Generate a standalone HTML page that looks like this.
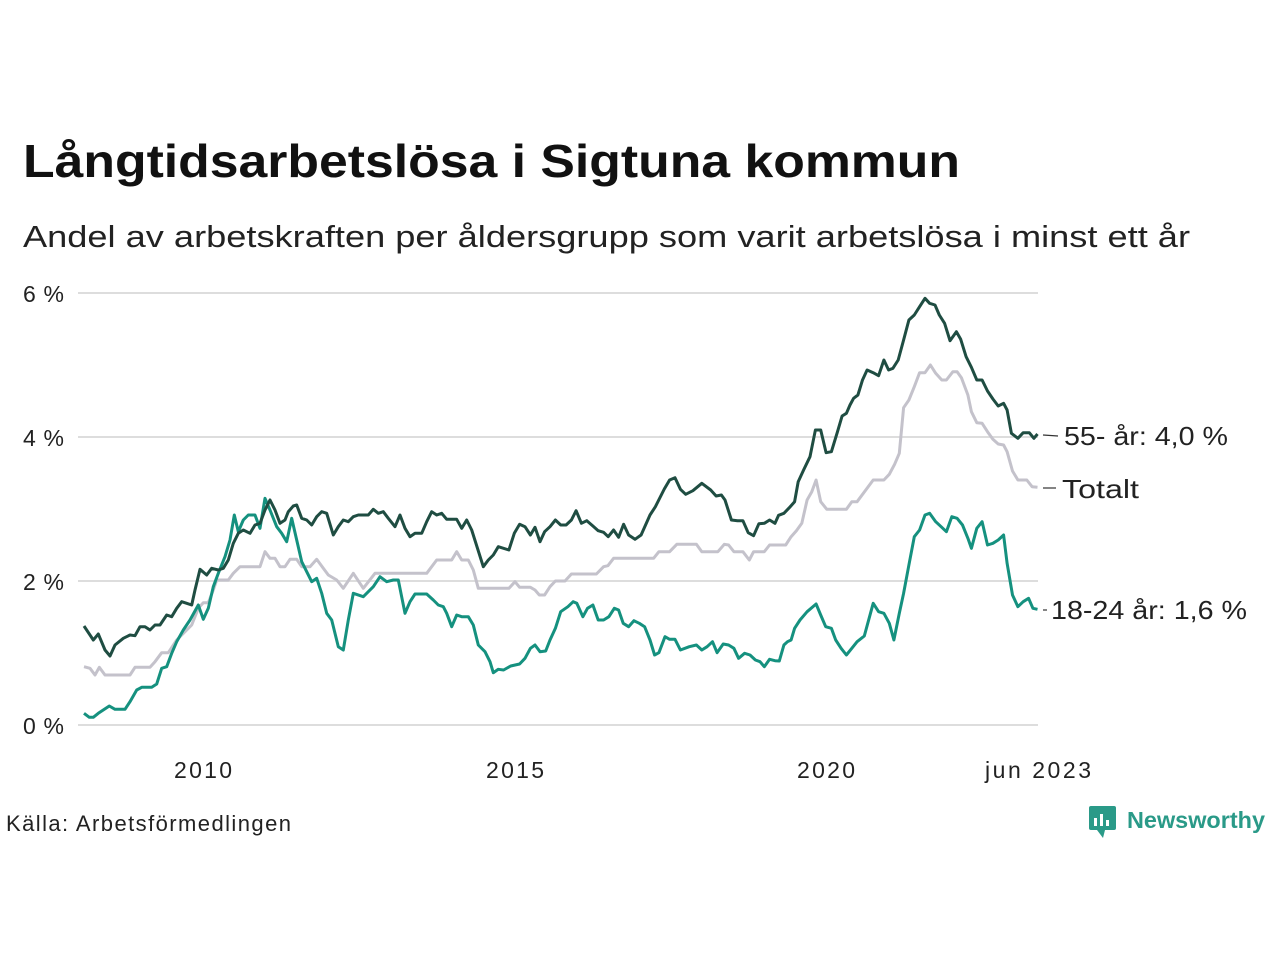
<!DOCTYPE html>
<html><head><meta charset="utf-8"><style>body{margin:0;background:#fff}svg{display:block}</style></head>
<body>
<svg id="s" width="1280" height="960" xmlns="http://www.w3.org/2000/svg" font-family="'Liberation Sans', 'DejaVu Sans', sans-serif">
<rect width="1280" height="960" fill="#fff"/>
<text x="23" y="177" font-size="46" font-weight="bold" fill="#111" textLength="937" lengthAdjust="spacingAndGlyphs">Långtidsarbetslösa i Sigtuna kommun</text>
<text x="23" y="247" font-size="31" fill="#222" textLength="1167" lengthAdjust="spacingAndGlyphs">Andel av arbetskraften per åldersgrupp som varit arbetslösa i minst ett år</text>
<g stroke="#ddd" stroke-width="2">
<line x1="78" x2="1038" y1="293" y2="293"/><line x1="78" x2="1038" y1="437" y2="437"/>
<line x1="78" x2="1038" y1="581" y2="581"/><line x1="78" x2="1038" y1="725" y2="725"/>
</g>
<g font-size="23" fill="#222" lengthAdjust="spacingAndGlyphs">
<text x="23" y="302" textLength="41">6 %</text><text x="23" y="446" textLength="41">4 %</text><text x="23" y="590" textLength="41">2 %</text><text x="23" y="734" textLength="41">0 %</text>
<text x="203" y="778" text-anchor="middle" textLength="58">2010</text><text x="515" y="778" text-anchor="middle" textLength="58">2015</text>
<text x="826" y="778" text-anchor="middle" textLength="58">2020</text><text x="1038" y="778" text-anchor="middle" textLength="106">jun 2023</text>
<text x="6" y="831" font-size="22" textLength="285">Källa: Arbetsförmedlingen</text>
</g>
<g id="lines" fill="none" stroke-width="3" stroke-linejoin="round"></g>
<g stroke="#333" stroke-width="1.2">
<line x1="1043" y1="435" x2="1058" y2="436"/><line x1="1043" y1="488" x2="1056" y2="488"/><line x1="1043" y1="610" x2="1047" y2="610"/>
</g>
<g font-size="26" fill="#222">
<text x="1064" y="445" textLength="164" lengthAdjust="spacingAndGlyphs">55- år: 4,0 %</text>
<text x="1062" y="498" textLength="77" lengthAdjust="spacingAndGlyphs">Totalt</text>
<text x="1051" y="619" textLength="196" lengthAdjust="spacingAndGlyphs">18-24 år: 1,6 %</text>
</g>
<g>
<rect x="1089" y="806" width="27" height="24" rx="2" fill="#2a9a88"/>
<polygon points="1097,830 1103,838 1105,830" fill="#2a9a88"/>
<rect x="1094" y="818" width="3" height="8" fill="#fff"/><rect x="1100" y="814" width="3" height="12" fill="#fff"/><rect x="1106" y="820" width="3" height="6" fill="#fff"/>
<text x="1127" y="828" font-size="23" font-weight="bold" fill="#2a9a88" textLength="138" lengthAdjust="spacingAndGlyphs">Newsworthy</text>
</g>
</svg>
<script>
var z1={dark:[42,438,70,480,85,462,105,510,120,528,135,495,160,475,180,465,195,467,210,440,225,440,240,450,255,435,270,435,290,405,305,410,320,385,335,365,350,370,365,375,375,330,390,268,410,285,425,265,445,270,460,265,475,240,490,190,505,160,520,150,540,160,555,135,570,130,585,90,600,60,615,90,630,130,645,120,655,95,670,78,680,75,695,115,710,120,725,135,740,110,755,95,770,100,790,165,805,140,820,120,835,125,850,110,865,105,895,105,910,88,925,100,940,95,955,115,975,140,990,105,1005,145,1020,170,1035,160,1055,160,1070,125,1085,95,1100,105,1115,100,1130,118,1160,118,1175,145,1190,120,1205,150,1240,260,1255,240,1270,225,1285,200],
gray:[42,560,60,565,75,585,88,562,105,585,180,585,195,562,240,562,255,545,275,518,295,518,320,480,345,455,365,435,385,385,400,368,415,368,430,330,440,300,475,300,490,280,510,260,570,260,585,215,600,235,615,235,630,260,645,260,660,238,680,238,695,260,720,260,740,238,760,265,775,285,800,300,820,325,850,280,880,325,915,280,1070,280,1100,240,1145,240,1160,215,1175,240,1195,240,1210,270,1225,325,1285,325],
teal:[42,700,58,712,70,712,85,700,118,678,135,688,165,688,180,665,200,630,215,622,245,622,260,612,275,565,290,560,305,520,320,485,340,450,360,420,385,375,400,418,415,385,430,320,445,280,465,230,480,180,493,105,505,155,520,120,535,105,555,105,570,145,585,55,600,90,620,140,635,160,650,185,665,115,680,180,695,245,710,275,725,305,740,295,755,340,770,400,785,420,805,500,820,510,835,420,850,340,880,350,910,320,930,290,950,305,970,300,985,300,1005,400,1020,365,1035,342,1070,342,1090,360,1105,375,1120,380,1130,400,1145,440,1160,405,1175,410,1195,410,1210,435,1225,495,1245,515,1260,545,1270,578,1285,568]};
var z2={dark:[0,800,25,810,40,760,55,733,70,740,85,765,98,742,112,785,125,755,140,740,155,720,170,735,185,735,200,720,213,692,228,730,243,722,260,738,275,752,290,757,303,770,318,750,332,772,346,733,360,765,378,778,395,765,420,705,435,680,460,627,475,600,490,593,505,628,520,643,540,632,565,610,590,630,605,648,620,645,630,660,648,720,665,722,680,722,695,758,710,767,725,731,740,730,755,720,770,730,780,706,795,700,810,683,825,665,835,605,850,570,868,530,883,450,898,450,913,518,928,515,945,455,958,408,970,400,980,375,990,355,1002,345,1015,300,1028,270,1045,278,1060,287,1075,240,1088,270,1100,265,1115,240,1130,180,1145,120,1160,105,1175,80,1190,55,1203,70,1218,75,1230,105,1245,130,1260,182,1278,155,1290,178,1305,230,1320,262,1335,300,1350,300,1365,333,1380,357,1395,378,1410,370,1420,390,1432,460,1450,475,1465,458,1482,458,1495,475,1505,462],
gray:[0,925,25,925,42,905,55,922,85,922,98,930,110,945,125,945,140,920,155,903,182,903,200,882,270,882,290,860,302,857,318,835,430,835,445,815,475,815,495,793,550,793,565,815,610,815,628,793,640,795,655,815,680,815,698,840,710,815,740,815,755,795,800,795,815,770,830,752,845,730,860,660,873,635,885,600,898,665,915,688,970,688,985,665,1000,665,1045,600,1075,600,1090,583,1105,553,1118,520,1130,383,1145,360,1160,320,1175,278,1190,278,1205,255,1220,280,1237,300,1250,300,1268,275,1280,275,1292,293,1310,345,1320,395,1335,428,1350,430,1365,455,1380,478,1395,492,1410,495,1420,515,1435,573,1450,600,1475,600,1490,620,1505,622],
teal:[0,1165,10,1170,30,1158,55,1152,70,1135,85,1105,98,1095,112,1115,128,1113,140,1080,155,1045,170,995,190,980,205,965,215,970,232,1010,245,985,260,975,275,1020,290,1020,305,1010,320,985,332,990,345,1030,360,1040,375,1022,390,1030,405,1040,420,1080,433,1125,445,1118,462,1070,475,1078,490,1078,505,1110,530,1100,550,1095,565,1110,580,1100,595,1085,608,1118,625,1092,640,1095,655,1105,668,1135,685,1120,700,1125,715,1140,728,1145,740,1160,755,1138,770,1142,782,1143,795,1095,805,1085,815,1080,825,1045,840,1020,860,995,885,972,898,1005,912,1040,928,1045,940,1080,955,1105,970,1125,985,1105,1000,1085,1020,1068,1045,970,1060,995,1075,1000,1090,1030,1103,1080,1118,1000,1130,940,1145,855,1160,770,1175,750,1190,705,1203,700,1220,725,1235,740,1250,755,1265,710,1280,715,1295,735,1310,775,1320,805,1335,745,1350,725,1365,795,1380,790,1395,780,1410,765,1420,850,1435,945,1450,980,1465,965,1480,955,1492,985,1505,988]};
var col={gray:"#c4c2cb",teal:"#15917f",dark:"#1f4d42"};
var g=document.getElementById("lines");
["gray","teal","dark"].forEach(function(k){
 var p=[],a=z1[k],b=z2[k],i;
 for(i=0;i<a.length;i+=2)p.push((70+a[i]/3).toFixed(1)+","+(480+a[i+1]/3).toFixed(1));
 for(i=2;i<b.length;i+=2)p.push((500+b[i]/2.8).toFixed(1)+","+(280+b[i+1]/3).toFixed(1));
 var e=document.createElementNS("http://www.w3.org/2000/svg","polyline");
 e.setAttribute("points",p.join(" "));e.setAttribute("stroke",col[k]);g.appendChild(e);
});
</script>
</body></html>
